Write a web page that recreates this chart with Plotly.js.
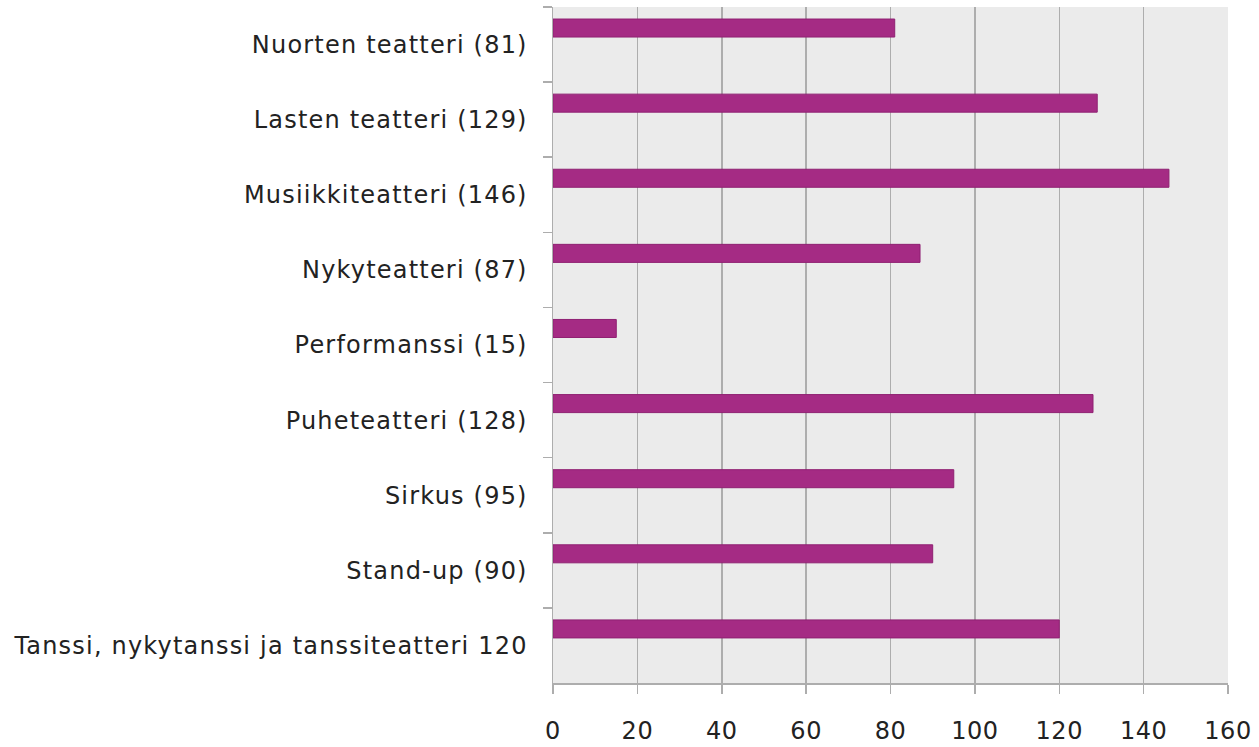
<!DOCTYPE html>
<html><head><meta charset="utf-8">
<script src="https://cdn.plot.ly/plotly-3.0.1.min.js"></script>
<style>html,body{margin:0;padding:0;background:#fff}#c{width:1259px;height:747px}
#c .ytick text{letter-spacing:1.2px}
#c .xtick text{letter-spacing:0.5px}
</style>
</head><body><div id="c"></div>
<script>
var categories = ["Nuorten teatteri (81)","Lasten teatteri (129)","Musiikkiteatteri (146)","Nykyteatteri (87)","Performanssi (15)","Puheteatteri (128)","Sirkus (95)","Stand-up (90)","Tanssi, nykytanssi ja tanssiteatteri 120"];
var values = [81,129,146,87,15,128,95,90,120];
var xTicks = [0,20,40,60,80,100,120,140,160];

var trace = {
  type: 'bar', orientation: 'h',
  y: categories, x: values,
  width: 0.24, offset: -0.34,
  marker: {color: '#a52b84', line: {color: '#8f2072', width: 1}},
  hoverinfo: 'x+y'
};
var layout = {
  width: 1259, height: 747,
  margin: {l: 553, r: 31, t: 7, b: 64},
  paper_bgcolor: '#ffffff', plot_bgcolor: '#ebebeb',
  showlegend: false,
  font: {family: 'DejaVu Sans, sans-serif', size: 24, color: '#222222'},
  xaxis: {range: [0,160], tickvals: xTicks, ticktext: xTicks.map(String),
    showgrid: true, gridcolor: '#adadad', gridwidth: 1.5,
    zeroline: false, showline: true, linecolor: '#adadad', linewidth: 1.5,
    ticks: 'outside', ticklen: 9, tickcolor: '#adadad', tickwidth: 1.5,
    ticklabelstandoff: 17, tickfont: {size: 24}},
  yaxis: {type: 'category', autorange: 'reversed', tickson: 'boundaries',
    showgrid: false, zeroline: false, showline: true, linecolor: '#adadad', linewidth: 1.5,
    ticks: 'outside', ticklen: 9, tickcolor: '#adadad', tickwidth: 1.5,
    ticklabelstandoff: 19, tickfont: {size: 24}}
};
Plotly.newPlot('c', [trace], layout, {displayModeBar: false, staticPlot: true});
</script></body></html>
